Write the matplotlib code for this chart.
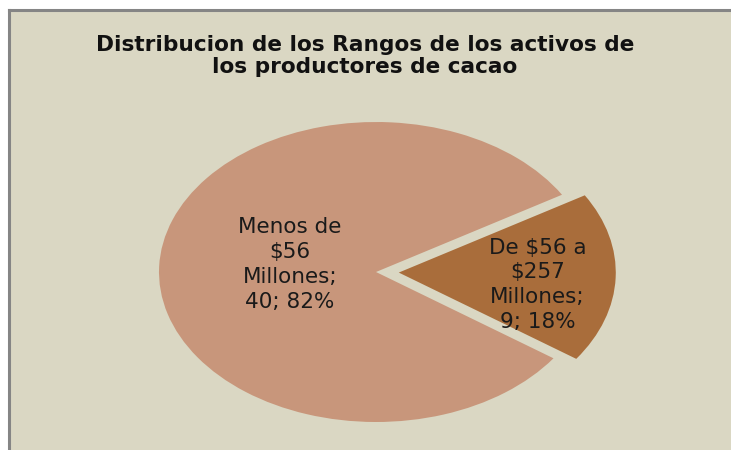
import matplotlib
matplotlib.use("Agg")
import matplotlib.pyplot as plt
from matplotlib.patches import Rectangle
from matplotlib.lines import Line2D

categories = ["Menos de\n$56\nMillones", "De $56 a\n$257\nMillones"]
values = [40, 9]
percents = ["82%", "18%"]
colors = ["#C8967B", "#A96D3B"]
explode = [0.0, 0.105]
title = "Distribucion de los Rangos de los activos de\nlos productores de cacao"

W, H = 731, 450
fig = plt.figure(figsize=(W / 100, H / 100), dpi=100)
fig.patch.set_facecolor("white")

# chart area background and border
fig.patches.append(Rectangle((10 / W, 0), 1 - 10 / W, 1 - 10 / H,
                             transform=fig.transFigure, facecolor="#DAD7C3",
                             edgecolor="none", zorder=-5))
fig.lines.append(Line2D([9 / W, 9 / W], [0, 1 - 9.5 / H], transform=fig.transFigure,
                        color="#858585", lw=2.2, zorder=-4))
fig.lines.append(Line2D([9 / W, 1], [1 - 9.5 / H, 1 - 9.5 / H], transform=fig.transFigure,
                        color="#858585", lw=2.2, zorder=-4))

ax = fig.add_axes([0, 0, 1, 1])
ax.set_zorder(2)
ax.set_facecolor("none")

wedges, _ = ax.pie(values, colors=colors, explode=explode, startangle=31,
                   counterclock=True, radius=1.0,
                   wedgeprops=dict(linewidth=0))
ax.axis("off")

cx, cy = 376, 272          # pixel centre (from top)
rx, ry = 217, 150          # pixel radii
x0 = -cx / rx
y0 = -(H - cy) / ry
ax.set_aspect("auto")
ax.set_xlim(x0, x0 + W / rx)
ax.set_ylim(y0, y0 + H / ry)

labels = [f"{c};\n{v}; {p}" for c, v, p in zip(categories, values, percents)]
label_pos = [(-0.396, 0.05), (0.745, -0.085)]
for (lx, ly), txt in zip(label_pos, labels):
    ax.text(lx, ly, txt, ha="center", va="center", fontsize=15.5,
            family="DejaVu Sans", color="#1A1A1A", linespacing=1.3)

fig.text(365 / W, 1 - 56 / H, title, ha="center", va="center", fontsize=15.6,
         fontweight="bold", family="DejaVu Sans", color="#111111", linespacing=1.12)

fig.savefig("out.png", dpi=100, facecolor=fig.get_facecolor())
